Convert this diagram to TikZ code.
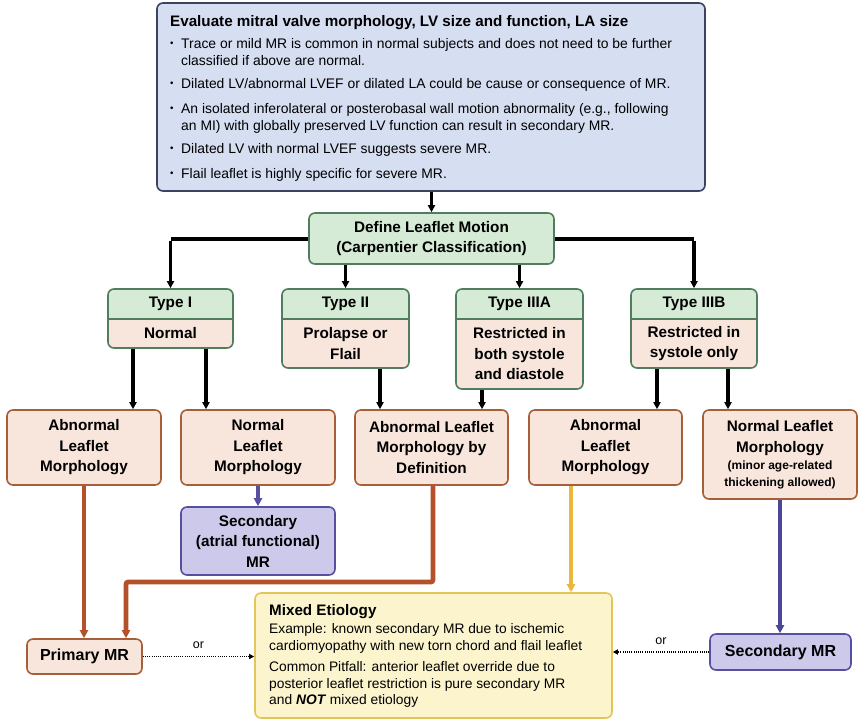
\documentclass[tikz,border=0pt]{standalone}
\usepackage{fontspec}
\setmainfont{Liberation Sans}
\usetikzlibrary{arrows.meta,calc}
\definecolor{topfill}{HTML}{D6DEF1}
\definecolor{topdraw}{HTML}{3C4260}
\definecolor{grn}{HTML}{D5EBD5}
\definecolor{grndraw}{HTML}{4F7D5E}
\definecolor{peach}{HTML}{F8E6DC}
\definecolor{peachdraw}{HTML}{A65F3A}
\definecolor{purp}{HTML}{CDC9EA}
\definecolor{purpdraw}{HTML}{5750A0}
\definecolor{yel}{HTML}{FBF4CD}
\definecolor{yeldraw}{HTML}{E2C65A}
\definecolor{brn}{HTML}{B4502A}
\definecolor{gold}{HTML}{E9B83A}
\definecolor{navy}{HTML}{4A4797}
\newcommand\Bx[7]{\node[#2, minimum width={(#5)-(#3)}, minimum height={(#6)-(#4)}] (#1) at ({((#3)+(#5))/2},{((#4)+(#6))/2}) {#7};}
\newcommand\TB[8]{%
  \begin{scope}
    \clip[rounded corners=6pt] (#2,#3) rectangle (#4,#5);
    \fill[peach] (#2,#3) rectangle (#4,#5);
    \fill[grn] (#2,#3) rectangle (#4,#6);
  \end{scope}
  \draw[grndraw, line width=1.6pt] (#2,#6) -- (#4,#6);
  \node[bx, draw=grndraw, minimum width={(#4)-(#2)}, minimum height={(#5)-(#3)}] (#1) at ({((#2)+(#4))/2},{((#3)+(#5))/2}) {};
  \node[bt] (#1h) at ({((#2)+(#4))/2},{((#3)+(#6))/2}) {#7};
  \node[bt] (#1b) at ({((#2)+(#4))/2},{((#6)+(#5))/2}) {#8};
}
\newcommand\bul{\makebox[11pt][l]{\raisebox{1.5pt}{\scalebox{0.7}{\textbullet}}}}
\tikzset{
  bx/.style={rounded corners=6pt, line width=1.6pt, inner sep=0pt, align=center},
  topbx/.style={bx, fill=topfill, draw=topdraw},
  grnbx/.style={bx, fill=grn, draw=grndraw},
  rowbx/.style={bx, fill=peach, draw=peachdraw},
  purbx/.style={bx, fill=purp, draw=purpdraw},
  yelbx/.style={bx, fill=yel, draw=yeldraw},
  bt/.style={font=\bfseries\fontsize{15.3}{20.5}\selectfont, align=center, inner sep=0pt},
  big/.style={font=\bfseries\fontsize{16}{18}\selectfont},
  tip/.style={-{Triangle[length=7pt,width=7pt]}},
  blk/.style={line width=3.2pt, tip},
  bar/.style={line width=4pt},
  col/.style={line width=3.5pt, -{Triangle[length=8pt,width=8pt]}},
  dots/.style={line width=1.6pt, dash pattern=on 0.9pt off 1.3pt, -{Triangle[length=5pt,width=5pt]}},
  lbl/.style={font=\fontsize{12.5}{14}\selectfont, inner sep=0pt}
}
\begin{document}
\begin{tikzpicture}[x=1pt,y=-1pt]
\fill[white] (0,0) rectangle (866,724);
\useasboundingbox (0,0) rectangle (866,724);
% top box
\Bx{top}{topbx}{157}{3}{705}{191}{}
\node[anchor=north west, align=left, inner sep=0pt, font=\fontsize{13.9}{17}\selectfont] (toptext) at (170,15) {%
{\bfseries\fontsize{15.2}{17}\selectfont Evaluate mitral valve morphology, LV size and function, LA size}\\[5pt]
\bul Trace or mild MR is common in normal subjects and does not need to be further\\
\hspace*{11pt}classified if above are normal.\\[6pt]
\bul Dilated LV/abnormal LVEF or dilated LA could be cause or consequence of MR.\\[8pt]
\bul An isolated inferolateral or posterobasal wall motion abnormality (e.g., following\\
\hspace*{11pt}an MI) with globally preserved LV function can result in secondary MR.\\[6pt]
\bul Dilated LV with normal LVEF suggests severe MR.\\[8pt]
\bul Flail leaflet is highly specific for severe MR.};
% define box
\Bx{def}{grnbx, bt}{309}{213}{554}{264}{Define Leaflet Motion\\(Carpentier Classification)}
% type boxes
\TB{t1}{108}{289}{233}{348}{319}{Type I}{Normal}
\TB{t2}{282}{289}{409}{368}{319}{Type II}{Prolapse or\\Flail}
\TB{t3}{456}{289}{583}{389}{319}{Type IIIA}{Restricted in\\both systole\\and diastole}
\TB{t4}{631}{289}{757}{368}{319}{Type IIIB}{Restricted in\\systole only}
% row boxes
\Bx{a}{rowbx, bt}{7}{410}{161}{485}{Abnormal\\Leaflet\\Morphology}
\Bx{b}{rowbx, bt}{181}{410}{335}{485}{Normal\\Leaflet\\Morphology}
\Bx{c}{rowbx, bt}{355}{410}{508}{485}{Abnormal Leaflet\\Morphology by\\Definition}
\Bx{d}{rowbx, bt}{529}{410}{682}{485}{Abnormal\\Leaflet\\Morphology}
\Bx{e}{rowbx, bt}{703}{410}{857}{499}{Normal Leaflet\\Morphology\\[-3pt]{\fontsize{12}{15}\selectfont (minor age-related}\\[-4pt]{\fontsize{12}{15}\selectfont thickening allowed)}}
\Bx{sa}{purbx, bt}{181}{507}{335}{575}{Secondary\\(atrial functional)\\MR}
% bottom
\Bx{pmr}{rowbx, big}{27}{639}{142}{674}{Primary MR}
\Bx{mix}{yelbx}{255}{593}{612}{718}{}
\Bx{smr}{purbx, big}{710}{634}{851}{670}{Secondary MR}
\node[anchor=north west, align=left, inner sep=0pt, font=\fontsize{13.8}{16.5}\selectfont] (mixtext) at (269,604) {%
{\bfseries\fontsize{15.2}{16.5}\selectfont Mixed Etiology}\\[2pt]
Example: known secondary MR due to ischemic\\
cardiomyopathy with new torn chord and flail leaflet\\[5pt]
Common Pitfall: anterior leaflet override due to\\
posterior leaflet restriction is pure secondary MR\\
and \textbf{\textit{NOT}} mixed etiology};
% connectors: top
\draw[blk] (top.south -| def.north) -- (def.north);
\draw[bar] (def.west) -- (def.west -| t1.north);
\draw[bar] (def.east) -- (def.east -| t4.north);
\draw[blk] ([yshift=-2pt]def.west -| t1.north) -- (t1.north);
\draw[blk] ([yshift=-2pt]def.east -| t4.north) -- (t4.north);
\draw[blk] (def.south -| t2.north) -- (t2.north);
\draw[blk] (def.south -| t3.north) -- (t3.north);
% types to rows
\draw[blk] (133,0 |- t1.south) -- (133,0 |- a.north);
\draw[blk] (206,0 |- t1.south) -- (206,0 |- b.north);
\draw[blk] (380,0 |- t2.south) -- (380,0 |- c.north);
\draw[blk] (482,0 |- t3.south) -- (482,0 |- c.north);
\draw[blk] (657,0 |- t4.south) -- (657,0 |- d.north);
\draw[blk] (728,0 |- t4.south) -- (728,0 |- e.north);
% rows to outcomes
\draw[col, draw=purpdraw] (b.south) -- (sa.north);
\draw[col, draw=brn] (84,0 |- a.south) -- (84,0 |- pmr.north);
\draw[col, draw=brn, line width=4.6pt, rounded corners=2pt] (433,0 |- c.south) -- (433,582) -- (126,582) -- (126,0 |- pmr.north);
\draw[col, draw=gold] (571,0 |- d.south) -- (571,0 |- mix.north);
\draw[col, draw=navy] (780,0 |- e.south) -- (780,0 |- smr.north);
% dotted
\draw[dots] (pmr.east) -- (pmr.east -| mix.west) node[lbl, midway, above=7pt] (or1) {or};
\draw[dots] (smr.west) -- (smr.west -| mix.east) node[lbl, midway, above=7pt] (or2) {or};
\end{tikzpicture}
\end{document}
